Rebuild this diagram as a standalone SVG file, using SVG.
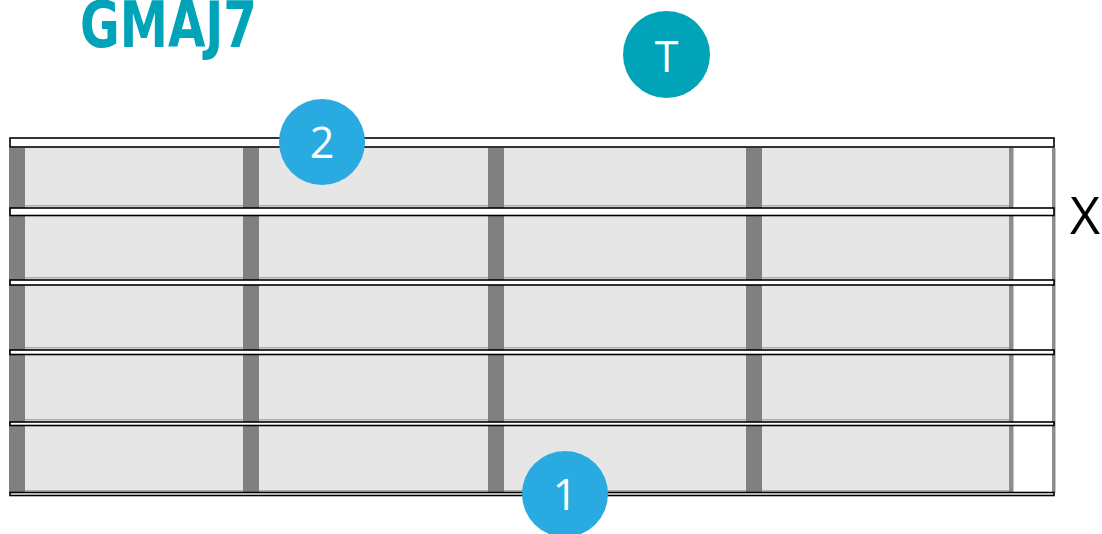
<svg xmlns="http://www.w3.org/2000/svg" width="1102" height="534" viewBox="0 0 1102 534">
  <style>
    .cell { fill: #e6e6e6; }
    .fret { fill: #808080; }
    .thinfret { fill: #8c8c8c; }
    .str { fill: #ffffff; stroke: #000000; stroke-width: 1.6; }
    .shade { fill: #adadad; }
    .finger { fill: #29abe2; }
    .tonic { fill: #00a3b7; }
    .lbl { font-family: "Open Sans", "Noto Sans", sans-serif; font-size: 43px; fill: #ffffff; text-anchor: middle; }
    .title { font-family: "DejaVu Sans Condensed", "DejaVu Sans", sans-serif; font-weight: bold; font-size: 64px; fill: #00a3b7; }
    .mute { font-family: "Open Sans", "Noto Sans", sans-serif; font-size: 52px; fill: #000000; text-anchor: middle; }
  </style>
  <rect x="0" y="0" width="1102" height="534" fill="#ffffff"/>
  <g id="title">
    <text class="title" x="80" y="47" textLength="177" lengthAdjust="spacingAndGlyphs">GMAJ7</text>
  </g>
  <g id="fretboard">
    <rect class="cell" x="25" y="148" width="985" height="345"/>
    <rect class="shade" x="25" y="205" width="985" height="1.5"/>
    <rect class="shade" x="25" y="277" width="985" height="1.5"/>
    <rect class="shade" x="25" y="347" width="985" height="1.5"/>
    <rect class="shade" x="25" y="419" width="985" height="1.5"/>
    <rect class="shade" x="25" y="490" width="985" height="1.5"/>
    <rect class="fret" x="9" y="148" width="16" height="345"/>
    <rect class="fret" x="243" y="148" width="16" height="345"/>
    <rect class="fret" x="488" y="148" width="16" height="345"/>
    <rect class="fret" x="746" y="148" width="16" height="345"/>
    <rect class="thinfret" x="1009" y="148" width="4.5" height="345"/>
    <rect class="thinfret" x="1052" y="148" width="3.5" height="345"/>
  </g>
  <g id="connectors">
    <rect class="str" x="10" y="138" width="1044" height="9"/>
    <rect class="str" x="10" y="208" width="1044" height="7.5"/>
    <rect class="str" x="10" y="280" width="1044" height="5"/>
    <rect class="str" x="10" y="350" width="1044" height="4.5"/>
    <rect class="str" x="10" y="422" width="1044" height="3.5"/>
    <rect class="str" x="10" y="492.5" width="1044" height="3"/>
  </g>
  <g id="node-T">
    <circle class="tonic" cx="666.5" cy="54.5" r="43.5"/>
    <text class="lbl" x="666.5" y="72">T</text>
  </g>
  <g id="node-2">
    <circle class="finger" cx="322" cy="142" r="43"/>
    <text class="lbl" x="322" y="158">2</text>
  </g>
  <g id="node-1">
    <circle class="finger" cx="565" cy="494" r="43"/>
    <text class="lbl" x="565" y="510">1</text>
  </g>
  <g id="mute-X">
    <text class="mute" x="1085" y="234">X</text>
  </g>
</svg>
